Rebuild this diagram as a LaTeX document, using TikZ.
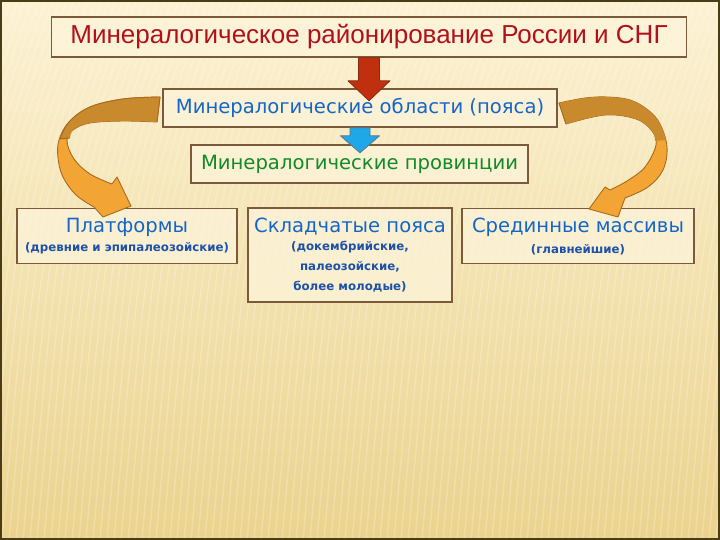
\documentclass[tikz,border=0pt]{standalone}
\usepackage{fontspec}
\setmainfont{Liberation Sans}
\newfontfamily\wideface{DejaVu Sans}
\usetikzlibrary{calc}
\definecolor{bgtop}{HTML}{FCF2D3}
\definecolor{bgbot}{HTML}{EBD38E}
\definecolor{boxline}{HTML}{7A5A3A}
\definecolor{boxfill}{HTML}{FDF4DA}
\definecolor{ttlred}{HTML}{B0121C}
\definecolor{areablue}{HTML}{1466C8}
\definecolor{provgreen}{HTML}{128A28}
\definecolor{subblue}{HTML}{1D52A8}
\definecolor{arrred}{HTML}{C0300E}
\definecolor{arrredline}{HTML}{8A2A10}
\definecolor{arrblue}{HTML}{1EA8EA}
\definecolor{arrblueline}{HTML}{5F7480}
\definecolor{ribdark}{HTML}{C98A2E}
\definecolor{riblight}{HTML}{F2A535}
\definecolor{ribline}{HTML}{A86A1E}
\definecolor{frame}{HTML}{4A3C14}
\tikzset{
  panel/.style={draw=boxline, line width=1.6pt, fill=boxfill, fill opacity=0.75, draw opacity=1, rectangle, inner sep=0pt},
  ttl/.style={font=\wideface\fontsize{19.6}{22}\selectfont, text=areablue, inner sep=0pt},
  sub/.style={font=\wideface\bfseries\fontsize{11.8}{20}\selectfont, text=subblue, inner sep=0pt, align=center},
  ribbon/.style={fill=riblight, draw=ribline, line width=0.9pt, line join=round},
  ribtop/.style={fill=ribdark, draw=none},
}
\begin{document}
\begin{tikzpicture}[x=1pt,y=-1pt]
\useasboundingbox (0,0) rectangle (720,540);
% background
\shade[top color=bgtop, bottom color=bgbot] (0,0) rectangle (720,540);
\foreach \s in {-120,-113,...,720}{
  \draw[white, opacity=0.22, line width=1.4pt] ({\s+110},0) .. controls ({\s+40},200) .. ({\s+10},540);
}
\draw[frame, line width=2.2pt] (1,1) rectangle (719,539);

% boxes
\node[panel, minimum width=635, minimum height=40] (b1) at (369,37) {};
\node[text=ttlred, font=\fontsize{26}{28}\selectfont, inner sep=0pt] (t1) at (369,37) {Минералогическое районирование России и СНГ};

\node[panel, minimum width=394, minimum height=38] (b2) at (360,108) {};
\node[ttl, text=areablue] (t2) at (360,108) {Минералогические области (пояса)};

\node[panel, minimum width=337, minimum height=38] (b3) at (359.5,164) {};
\node[ttl, text=provgreen] (t3) at (359.5,164) {Минералогические провинции};

\node[panel, minimum width=220, minimum height=55] (b4) at (127,236) {};
\node[ttl] (t4) at (127,227) {Платформы};
\node[sub] (s4) at (127,248) {(древние и эпипалеозойские)};

\node[panel, minimum width=204, minimum height=94] (b5) at (350,255) {};
\node[ttl] (t5) at (350,227) {Складчатые пояса};
\node[sub, anchor=north] (s5) at (350,241) {(докембрийские,\\палеозойские,\\более молодые)};

\node[panel, minimum width=232, minimum height=55] (b6) at (578,236) {};
\node[ttl] (t6) at (578,227) {Срединные массивы};
\node[sub] (s6) at (578,250) {(главнейшие)};

% straight block arrows
\coordinate (ra) at (b1.south);
\filldraw[fill=arrred, draw=arrredline, line width=0.8pt, line join=round]
  ($(ra)+(-10.5,0)$) -- ($(ra)+(10.5,0)$) -- ($(ra)+(10.5,23)$) -- ($(ra)+(21,23)$)
  -- ($(ra)+(0,43)$) -- ($(ra)+(-21,23)$) -- ($(ra)+(-10.5,23)$) -- cycle;
\coordinate (ba) at (b2.south);
\filldraw[fill=arrblue, draw=arrblueline, line width=0.8pt, line join=round]
  ($(ba)+(-10,0)$) -- ($(ba)+(10,0)$) -- ($(ba)+(10,8)$) -- ($(ba)+(19.5,8)$)
  -- ($(ba)+(0,25)$) -- ($(ba)+(-19.5,8)$) -- ($(ba)+(-10,8)$) -- cycle;

% left curved arrow
\filldraw[ribbon] (160,97) -- plot[smooth, tension=0.6] coordinates {(160,97) (123,99) (90,107) (69,122) (59,140) (58,158) (63,177) (76,195) (94,207)}
  -- (103,217) -- (131,206) -- (117,177) -- plot[smooth, tension=0.6] coordinates {(112,184) (90,174) (74,159) (67,141) (73,130) (90,123) (123,121) (157,122)} -- cycle;
\fill[ribtop] (160,97) -- plot[smooth, tension=0.6] coordinates {(160,97) (123,99) (90,107) (69,122) (60,139)} -- (70,138) -- plot[smooth, tension=0.6] coordinates {(70,138) (74,129) (90,123) (123,121) (157,122)} -- cycle;
\draw[ribline, line width=0.9pt, line join=round] plot[smooth, tension=0.6] coordinates {(160,97) (123,99) (90,107) (69,122) (60,139)} (70,138) -- (60,139);
\draw[ribline, line width=0.9pt] (160,97) -- (157,122);

% right curved arrow
\filldraw[ribbon] (559,103) -- plot[smooth, tension=0.6] coordinates {(559,103) (585,98) (607,97) (630,100) (648,110) (660,124) (667,147) (663,170) (648,187) (625,198)}
  -- (618,217) -- (589,209) -- (605,187) -- plot[smooth, tension=0.6] coordinates {(610,190) (627,181) (645,167) (656,145) (652,131) (636,119) (605,115) (566,124)} -- cycle;
\fill[ribtop] (559,103) -- plot[smooth, tension=0.6] coordinates {(559,103) (585,98) (607,97) (630,100) (648,110) (660,124) (666,140)} -- (655,141) -- plot[smooth, tension=0.6] coordinates {(655,141) (652,131) (636,119) (605,115) (566,124)} -- cycle;
\draw[ribline, line width=0.9pt] (559,103) -- (566,124);
\end{tikzpicture}
\end{document}
